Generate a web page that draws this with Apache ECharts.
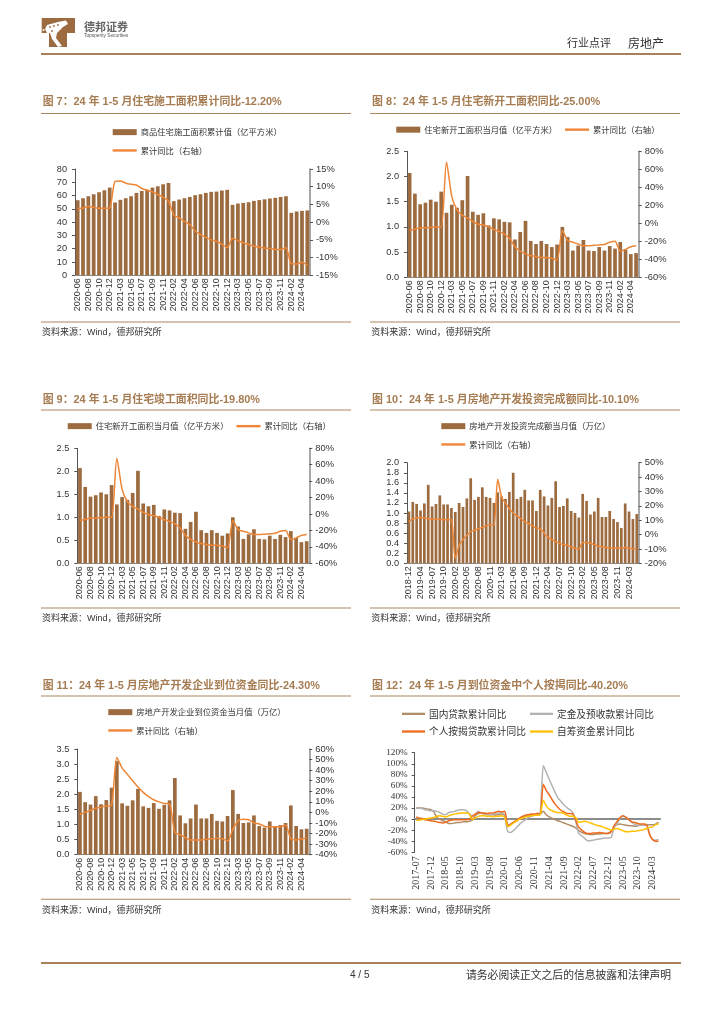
<!DOCTYPE html>
<html><head><meta charset="utf-8">
<style>html,body{margin:0;padding:0;background:#fff}#c{width:724px;height:1024px}</style>
<script src="https://cdn.jsdelivr.net/npm/echarts@6/dist/echarts.min.js"></script>
</head><body><div id="c"></div>
<script>
const months44 = ['2020-06','2020-07','2020-08','2020-09','2020-10','2020-11','2020-12','2021-02','2021-03','2021-04','2021-05','2021-06','2021-07','2021-08','2021-09','2021-10','2021-11','2021-12','2022-02','2022-03','2022-04','2022-05','2022-06','2022-07','2022-08','2022-09','2022-10','2022-11','2022-12','2023-02','2023-03','2023-04','2023-05','2023-06','2023-07','2023-08','2023-09','2023-10','2023-11','2023-12','2024-02','2024-03','2024-04','2024-05'];
const months60 = ['2018-12','2019-02','2019-03','2019-04','2019-05','2019-06','2019-07','2019-08','2019-09','2019-10','2019-11','2019-12','2020-02','2020-03','2020-04','2020-05','2020-06','2020-07','2020-08','2020-09','2020-10','2020-11','2020-12','2021-02','2021-03','2021-04','2021-05','2021-06','2021-07','2021-08','2021-09','2021-10','2021-11','2021-12','2022-02','2022-03','2022-04','2022-05','2022-06','2022-07','2022-08','2022-09','2022-10','2022-11','2022-12','2023-02','2023-03','2023-04','2023-05','2023-06','2023-07','2023-08','2023-09','2023-10','2023-11','2023-12','2024-02','2024-03','2024-04','2024-05'];
const months83 = ['2017-07','2017-08','2017-09','2017-10','2017-11','2017-12','2018-01','2018-02','2018-03','2018-04','2018-05','2018-06','2018-07','2018-08','2018-09','2018-10','2018-11','2018-12','2019-01','2019-02','2019-03','2019-04','2019-05','2019-06','2019-07','2019-08','2019-09','2019-10','2019-11','2019-12','2020-01','2020-02','2020-03','2020-04','2020-05','2020-06','2020-07','2020-08','2020-09','2020-10','2020-11','2020-12','2021-01','2021-02','2021-03','2021-04','2021-05','2021-06','2021-07','2021-08','2021-09','2021-10','2021-11','2021-12','2022-01','2022-02','2022-03','2022-04','2022-05','2022-06','2022-07','2022-08','2022-09','2022-10','2022-11','2022-12','2023-01','2023-02','2023-03','2023-04','2023-05','2023-06','2023-07','2023-08','2023-09','2023-10','2023-11','2023-12','2024-01','2024-02','2024-03','2024-04','2024-05'];

const bars7 = [56.5,58,59.5,61,62.5,64,66, 54.8,56.8,58,59.5,62,63.5,64.5,66,67,68.5,69.5, 55.8,57,58,59,60.3,61,62,62.8,63,63.8,64.3, 53,54,54.5,55,56,56.6,57.2,57.8,58.3,59,59.5, 47,48,48.5,48.8];
const line7 = [3.8,4,4.4,4.2,3.9,3.9,4, 11.5,11.6,11,10.7,10.5,9.5,9,8.5,7.8,7,6, 2,1.2,0.2,-0.7,-2.5,-3.5,-4.3,-5,-5.4,-6.2,-7.2, -4.6,-5.2,-5.8,-6.3,-6.8,-7,-7.3,-7.4,-7.7,-7.7,-7.2, -11.7,-11.8,-11.3,-12.2];
const bars8 = [2.07,1.66,1.45,1.48,1.54,1.5,1.7, 1.28,1.44,1.38,1.53,2.01,1.3,1.24,1.27,1.03,1.17,1.15, 1.1,1.09,0.75,0.9,1.12,0.72,0.66,0.72,0.66,0.6,0.65, 1.0,0.8,0.53,0.63,0.74,0.53,0.52,0.6,0.53,0.62,0.57, 0.7,0.55,0.46,0.48];
const line8 = [-8,-6.5,-5,-5,-4.5,-4,-4, 68,30,15,9,6,2,-1,-2,-4,-7,-9, -12,-17,-26,-31,-34,-36,-37,-38,-38,-39,-41, -8,-19,-21,-23,-25,-25,-24.5,-24,-23.5,-21,-20, -31,-29,-26,-25];
const bars9 = [2.07,1.66,1.45,1.48,1.54,1.5,1.7, 1.28,1.44,1.38,1.53,2.01,1.3,1.24,1.27,1.03,1.17,1.15, 1.1,1.09,0.75,0.9,1.12,0.72,0.66,0.72,0.66,0.6,0.65, 1.0,0.8,0.53,0.63,0.74,0.53,0.52,0.6,0.53,0.62,0.57, 0.7,0.55,0.46,0.48];
const line9 = [-8,-6.5,-5,-5,-4.5,-4,-4, 68,30,15,9,6,2,-1,-2,-4,-7,-9, -12,-17,-26,-31,-34,-36,-37,-38,-38,-39,-41, -8,-19,-21,-23,-25,-25,-24.5,-24,-23.5,-21,-20, -31,-29,-26,-25];
const bars10 = [1.03,1.22,1.18,1.05,1.19,1.56,1.13,1.18,1.35,1.17,1.17,1.10,1.02,1.20,1.12,1.29,1.69,1.26,1.32,1.51,1.32,1.30,1.20,1.41,1.33,1.28,1.42,1.80,1.28,1.32,1.46,1.25,1.25,1.04,1.46,1.33,1.15,1.30,1.63,1.12,1.14,1.29,1.04,1.0,0.91,1.38,1.24,0.97,1.03,1.30,0.92,0.92,1.04,0.88,0.82,0.70,1.19,1.03,0.88,0.98];
const line10 = [9,11,11.5,12,11.5,11,10.8,10.6,10.5,10.4,10.3,10.2,-16.5,-7.5,-3.5,-0.5,2,3,4,5,6,6.8,6.5,38.5,26,22,18,15,13,11,9,7.5,6,4.5,4,1,-2,-3.5,-5,-6,-7,-7.5,-8.5,-9.5,-10,-5.5,-5.5,-6,-7,-8,-8.5,-9,-9.3,-9.5,-9.6,-9.6,-9,-9.5,-9.8,-10.1];
const bars11 = [2.08,1.74,1.66,1.94,1.67,1.81,2.22, 3.1,1.7,1.62,1.8,2.18,1.6,1.55,1.71,1.52,1.65,1.8, 2.54,1.3,1.04,1.2,1.66,1.2,1.2,1.35,1.12,1.1,1.28, 2.14,1.35,1.05,1.07,1.3,0.95,0.9,1.1,0.92,0.98,1.05, 1.63,0.95,0.84,0.86];
const line11 = [-2,0,2,4,5,6,7, 52,42,36,30,24,19,15,12,10,8.5,8, -19,-21,-24,-26,-26,-26,-25.5,-25,-24.5,-25,-27, -16,-8,-6.5,-7,-10,-11,-13,-13.5,-13.5,-13.5,-12, -25,-26,-25,-24.3];
const loan12 = [20,20,20,19,18,17,13,3,0,-3,-5,-8,-8,-7,-6,-6,-5,-5,-4,-2,6,10,11,10,9,8,8,7,8,9,7,-11,-9,-6,-3,1,3,5,6,7,8,8,9,14,8,4,1,-1,-3,-5,-7,-9,-11,-13,-16,-21,-24,-26,-27,-28,-28,-27,-27,-26,-26,-25,-22,-14,-10,-9,-10,-11,-12,-12,-13,-12,-11,-11,-10,-10,-10,-9,-6];
const deposit12 = [20,20,19,17,16,15,15,14,12,9,8,12,13,14,16,17,17,15,10,6,9,14,11,9,8,8,9,10,11,13,2,-23,-24,-20,-15,-9,-5,-1,3,5,7,8,12,97,85,72,60,48,38,32,26,21,17,12,-5,-26,-30,-35,-39,-39,-38,-37,-36,-35,-34,-34,-33,-15,-8,1,5,3,-2,-6,-10,-11,-11,-11,-10,-28,-37,-38,-37];
const mortgage12 = [4,2,1,-1,-2,-3,-4,-5,-6,-7,-6,-3,-2,-1,-1,-1,-1,-1,0,5,9,12,11,11,10,11,11,13,14,13,14,-12,-9,-5,-2,2,5,7,8,9,9,10,10,63,52,44,35,27,21,16,13,10,10,9,-2,-15,-20,-24,-26,-26,-25,-25,-24,-25,-26,-26,-23,-12,-4,3,6,3,-1,-5,-6,-8,-9,-9,-11,-28,-37,-40,-40];
const self12 = [-2,-2,-1,0,1,2,3,5,6,5,4,6,8,9,10,11,11,11,9,-1,2,5,6,6,5,5,4,5,5,6,3,-14,-11,-7,-3,0,2,4,5,6,7,7,8,34,24,18,15,13,12,12,10,7,5,5,3,-6,-5,-4,-5,-7,-9,-11,-12,-14,-16,-18,-20,-18,-17,-19,-21,-23,-23,-22,-22,-21,-20,-19,-17,-15,-14,-10,-9];

const BAR='#9c6b3f', LINE='#ee8638', TXT='#333333', SANS='"Liberation Sans","Noto Sans CJK SC",sans-serif', CJK='"Noto Sans CJK SC",sans-serif', SERIF='"Liberation Serif","Noto Sans CJK SC",serif';

const panels = [
 {box:[75,169,235,106.3], cats:months44, bars:bars7, line:line7, barName:'商品住宅施工面积累计值（亿平方米）', lineName:'累计同比（右轴）',
  left:{min:0,max:80,interval:10,dec:0}, right:{min:-15,max:15,interval:5}, labelGap:1, legend:{left:112.7,top:128,vertical:true}},
 {box:[407,151.3,231.7,126], cats:months44, bars:bars8, line:line8, barName:'住宅新开工面积当月值（亿平方米）', lineName:'累计同比（右轴）',
  left:{min:0,max:2.5,interval:0.5,dec:1}, right:{min:-60,max:80,interval:20}, labelGap:1, legend:{left:396.3,top:125.5}},
 {box:[77.3,448.3,232,115], cats:months44, bars:bars9, line:line9, barName:'住宅新开工面积当月值（亿平方米）', lineName:'累计同比（右轴）',
  left:{min:0,max:2.5,interval:0.5,dec:1}, right:{min:-60,max:80,interval:20}, labelGap:1, legend:{left:67.7,top:422}},
 {box:[407,462.7,231.7,100.6], cats:months60, bars:bars10, line:line10, barName:'房地产开发投资完成额当月值（万亿）', lineName:'累计同比（右轴）',
  left:{min:0,max:2,interval:0.2,dec:1}, right:{min:-20,max:50,interval:10}, labelGap:2, legend:{left:441.3,top:422,vertical:true}},
 {box:[77.3,749,232,105.7], cats:months44, bars:bars11, line:line11, barName:'房地产开发企业到位资金当月值（万亿）', lineName:'累计同比（右轴）',
  left:{min:0,max:3.5,interval:0.5,dec:1}, right:{min:-40,max:60,interval:10}, labelGap:1, legend:{left:108.3,top:708,vertical:true}}
];

const grid=[], xAxis=[], yAxis=[], series=[], legend=[];
const AX='#555555', AXR='#8a8a8a';
panels.forEach((p,i)=>{
  grid.push({left:p.box[0],top:p.box[1],width:p.box[2],height:p.box[3]});
  xAxis.push({type:'category',gridIndex:i,data:p.cats,boundaryGap:true,
    axisLine:{onZero:false,lineStyle:{color:'#8a8a8a',width:1}},axisTick:{show:false},
    axisLabel:{rotate:90,interval:p.labelGap,fontSize:9,fontFamily:SANS,color:TXT,margin:3}});
  const ln=yAxis.length;
  yAxis.push({type:'value',gridIndex:i,min:p.left.min,max:p.left.max,interval:p.left.interval,splitLine:{show:false},
    axisLine:{show:true,lineStyle:{color:AX,width:1}},axisTick:{show:true,length:3,inside:false,lineStyle:{color:AX}},
    axisLabel:{fontSize:9.2,fontFamily:SANS,color:TXT,margin:8,formatter:v=>v.toFixed(p.left.dec)}});
  yAxis.push({type:'value',gridIndex:i,position:'right',min:p.right.min,max:p.right.max,interval:p.right.interval,splitLine:{show:false},
    axisLine:{show:true,lineStyle:{color:AXR,width:1.5}},axisTick:{show:true,length:3,lineStyle:{color:AX}},
    axisLabel:{fontSize:9.4,fontFamily:SANS,color:TXT,margin:6,formatter:'{value}%'}});
  series.push({type:'bar',name:p.barName,xAxisIndex:i,yAxisIndex:ln,data:p.bars,barCategoryGap:'30%',itemStyle:{color:BAR},silent:true,animation:false});
  series.push({type:'line',name:p.lineName,xAxisIndex:i,yAxisIndex:ln+1,data:p.line,smooth:0.25,showSymbol:false,symbol:'none',lineStyle:{color:LINE,width:1.5},itemStyle:{color:LINE},silent:true,animation:false});
  legend.push({left:p.legend.left,top:p.legend.top,orient:p.legend.vertical?'vertical':'horizontal',itemWidth:24,itemHeight:6,itemGap:p.legend.vertical?10:8,selectedMode:false,padding:0,
    textStyle:{fontFamily:CJK,fontSize:8.3,color:TXT,padding:[0,0,0,-1]},
    data:[{name:p.barName,icon:'rect'},{name:p.lineName,icon:'path://M0,45H100V55H0Z',itemStyle:{color:LINE}}]});
});

// panel 12: four lines; axis line at zero, labels at the bottom
const g12=grid.length;
grid.push({left:414.7,top:752.7,width:245.3,height:99.6});
xAxis.push({type:'category',gridIndex:g12,data:months83,axisLine:{show:false,onZero:false},axisTick:{show:false},
  axisLabel:{rotate:90,interval:4,fontSize:10,fontFamily:SERIF,color:TXT,margin:4}});
const x0=xAxis.length;
xAxis.push({type:'category',gridIndex:g12,data:months83,axisLine:{show:true,onZero:true,lineStyle:{color:'#8c8c8c',width:2}},axisTick:{show:false},axisLabel:{show:false}});
const y12=yAxis.length;
yAxis.push({type:'value',gridIndex:g12,min:-60,max:120,interval:20,splitLine:{show:false},
  axisLine:{show:true,lineStyle:{color:AX,width:1}},axisTick:{show:true,length:3,lineStyle:{color:AX}},
  axisLabel:{fontSize:9.2,fontFamily:SERIF,color:TXT,margin:7,formatter:'{value}%'}});
const s12=[['国内贷款累计同比',loan12,'#b08d68'],['定金及预收款累计同比',deposit12,'#b3b3b3'],['个人按揭贷款累计同比',mortgage12,'#ef6a1f'],['自筹资金累计同比',self12,'#ffc000']];
s12.forEach(s=>series.push({type:'line',name:s[0],xAxisIndex:x0-1,yAxisIndex:y12,data:s[1],smooth:0.2,showSymbol:false,symbol:'none',lineStyle:{color:s[2],width:1.5},itemStyle:{color:s[2]},silent:true,animation:false}));
[[402,[s12[0],s12[2]]],[530,[s12[1],s12[3]]]].forEach(c=>legend.push({left:c[0],top:709,orient:'vertical',itemWidth:23,itemHeight:6,itemGap:8,selectedMode:false,padding:0,
  textStyle:{fontFamily:CJK,fontSize:9.7,color:TXT,padding:[0,0,0,-1]},
  data:c[1].map(s=>({name:s[0],icon:'path://M0,45H100V55H0Z',itemStyle:{color:s[2]}}))}));

// page furniture
const titles=[
 ['图 7：24 年 1-5 月住宅施工面积累计同比-12.20%',42.7,102,113.5,322,333,41,351],
 ['图 8：24 年 1-5 月住宅新开工面积同比-25.00%',372,102,113.5,322,333,370,680],
 ['图 9：24 年 1-5 月住宅竣工面积同比-19.80%',42.7,399.7,410,608,619,41,351],
 ['图 10：24 年 1-5 月房地产开发投资完成额同比-10.10%',372,399.7,410,608,619,370,680],
 ['图 11：24 年 1-5 月房地产开发企业到位资金同比-24.30%',42.7,685.7,696,899.3,910.7,41,351],
 ['图 12：24 年 1-5 月到位资金中个人按揭同比-40.20%',372,685.7,696,899.3,910.7,370,680]
];
const SOURCE='资料来源：Wind，德邦研究所';
const RULE='#ab8660', TITLE='#a67c52';
const gfx=[];
const rect=(x,y,w,h,c)=>gfx.push({type:'rect',shape:{x,y,width:w,height:h},style:{fill:c},silent:true});
const text=(t,x,y,o)=>gfx.push({type:'text',x,y,style:Object.assign({text:t,fill:TXT,font:'8.5px '+CJK,textVerticalAlign:'middle',textBaseline:'middle'},o||{}),silent:true});
titles.forEach(t=>{
  text(t[0],t[1],t[2],{fill:TITLE,font:'bold 10.9px '+SANS});
  rect(t[6],t[3]-0.5,t[7]-t[6],1,RULE);
  rect(t[6],t[4]-0.5,t[7]-t[6],1,RULE);
  text(SOURCE,t[1]-0.7,t[5],{font:'9px '+SANS});
});
rect(41,53,640,2,'#a9805a');
rect(41,962,640,2,'#a9805a');
text('行业点评',567,43,{font:'11px '+CJK});
text('房地产',628,43,{font:'12px '+CJK});
text('4 / 5',350,975,{font:'10px '+SANS});
text('请务必阅读正文之后的信息披露和法律声明',466,975,{font:'10.8px '+CJK});
// logo
gfx.push({type:'polygon',shape:{points:[[41.7,18],[75,18],[75,33],[67,33],[67,47],[49,47],[49,33],[41.7,33]]},style:{fill:'#9c6b3f'},silent:true});
gfx.push({type:'polygon',shape:{points:[[47,25],[58,22],[66,20.5],[68,24],[63,27],[60,30],[57,33],[56,38],[62,46],[58,47],[52,39],[50,33],[47,33],[45,29]]},style:{fill:'#fff'},silent:true});
gfx.push({type:'circle',shape:{cx:43.5,cy:30,r:1},style:{fill:'#fff'},silent:true});
[[50,27],[54,26],[58,25],[52,31]].forEach(d=>gfx.push({type:'circle',shape:{cx:d[0],cy:d[1],r:0.9},style:{fill:'#9c6b3f'},silent:true}));
text('德邦证券',84,27,{font:'bold 11px '+CJK,fill:'#666'});
text('Topsperity Securities',84,36,{font:'4.8px '+SANS,fill:'#555'});

const chart=echarts.init(document.getElementById('c'),null,{renderer:'canvas'});
chart.setOption({animation:false,backgroundColor:'#fff',grid,xAxis,yAxis,series,legend,tooltip:{show:false},graphic:{elements:gfx}});
</script></body></html>
